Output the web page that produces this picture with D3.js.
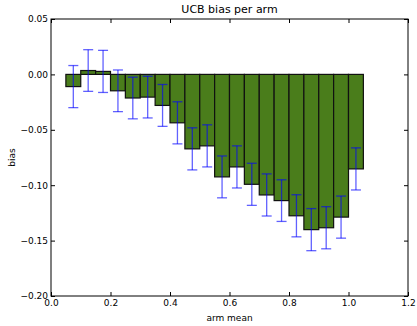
<!DOCTYPE html>
<html>
<head>
<meta charset="utf-8">
<script src="https://cdn.jsdelivr.net/npm/d3@7"></script>
<style>
  body { margin: 0; background: #fff; }
  text { font-family: "DejaVu Sans", sans-serif; }
</style>
</head>
<body>
<div id="chart"></div>
<script>
// bar left edges (arm mean bins), bias values and error half-widths
var binStarts = [0.05, 0.10, 0.15, 0.20, 0.25, 0.30, 0.35, 0.40, 0.45, 0.50,
                 0.55, 0.60, 0.65, 0.70, 0.75, 0.80, 0.85, 0.90, 0.95, 1.00];
var biasValues = [-0.011, 0.0035, 0.0027, -0.0148, -0.0213, -0.0205, -0.028, -0.0437, -0.0672, -0.0645,
                  -0.0925, -0.0835, -0.0992, -0.1088, -0.1139, -0.1276, -0.1401, -0.1384, -0.1288, -0.0853];
var errValues = [0.019, 0.0188, 0.019, 0.0188, 0.0188, 0.0188, 0.0189, 0.019, 0.019, 0.019,
                 0.0189, 0.019, 0.019, 0.019, 0.0188, 0.019, 0.019, 0.019, 0.019, 0.019];
var binWidth = 0.05;
var xTicks = [0.0, 0.2, 0.4, 0.6, 0.8, 1.0, 1.2];
var yTicks = [0.05, 0.00, -0.05, -0.10, -0.15, -0.20];

var svgWidth = 417, svgHeight = 326;
var margin = { top: 19, right: 9, bottom: 30, left: 51 };
var width = svgWidth - margin.left - margin.right;
var height = svgHeight - margin.top - margin.bottom;

var svg = d3.select("#chart").append("svg")
  .attr("width", svgWidth)
  .attr("height", svgHeight);

var g = svg.append("g")
  .attr("transform", `translate(${margin.left}, ${margin.top})`);

var x = d3.scaleLinear().domain([0, 1.2]).range([0, width]);
var y = d3.scaleLinear().domain([-0.20, 0.05]).range([height, 0]);

var data = binStarts.map(function(b, i) {
  return { x0: b, v: biasValues[i], e: errValues[i] };
});

// bars
g.append("g").selectAll("rect")
  .data(data)
  .enter()
  .append("rect")
  .attr("x", d => x(d.x0))
  .attr("width", d => x(d.x0 + binWidth) - x(d.x0))
  .attr("y", d => y(Math.max(0, d.v)))
  .attr("height", d => Math.abs(y(d.v) - y(0)))
  .attr("fill", "#4a7d1b")
  .attr("stroke", "#111")
  .attr("stroke-width", 1.2);

// error bars
var cap = 5;
var errG = g.append("g")
  .attr("stroke", "#0000ff")
  .attr("stroke-opacity", 0.62)
  .attr("stroke-width", 1.3);

errG.selectAll("line.v")
  .data(data)
  .enter()
  .append("line")
  .attr("x1", d => x(d.x0 + binWidth / 2))
  .attr("x2", d => x(d.x0 + binWidth / 2))
  .attr("y1", d => y(d.v + d.e))
  .attr("y2", d => y(d.v - d.e));

["top", "bottom"].forEach(function(side) {
  errG.selectAll("line." + side)
    .data(data)
    .enter()
    .append("line")
    .attr("x1", d => x(d.x0 + binWidth / 2) - cap)
    .attr("x2", d => x(d.x0 + binWidth / 2) + cap)
    .attr("y1", d => y(side === "top" ? d.v + d.e : d.v - d.e))
    .attr("y2", d => y(side === "top" ? d.v + d.e : d.v - d.e));
});

// axes, ticks inside on all four sides
var fmtY = d => d3.format(".2f")(d).replace("-", "\u2212");
var tickLen = 4;

var bottomAxis = d3.axisBottom(x).tickValues(xTicks).tickFormat(d3.format(".1f"))
  .tickSizeInner(-tickLen).tickSizeOuter(0).tickPadding(4);
var leftAxis = d3.axisLeft(y).tickValues(yTicks).tickFormat(fmtY)
  .tickSizeInner(-tickLen).tickSizeOuter(0).tickPadding(3);
var topAxis = d3.axisTop(x).tickValues(xTicks).tickFormat("")
  .tickSizeInner(-tickLen).tickSizeOuter(0);
var rightAxis = d3.axisRight(y).tickValues(yTicks).tickFormat("")
  .tickSizeInner(-tickLen).tickSizeOuter(0);

var axes = [
  g.append("g").attr("transform", `translate(0, ${height})`).call(bottomAxis),
  g.append("g").call(leftAxis),
  g.append("g").call(topAxis),
  g.append("g").attr("transform", `translate(${width}, 0)`).call(rightAxis)
];
axes.forEach(function(a) {
  a.select(".domain").remove();
  a.selectAll("text").attr("font-size", "9px").attr("fill", "#000")
    .attr("font-family", "DejaVu Sans, sans-serif");
  a.selectAll(".tick line").attr("stroke", "#000");
});

g.append("rect")
  .attr("width", width)
  .attr("height", height)
  .attr("fill", "none")
  .attr("stroke", "#000")
  .attr("stroke-width", 1);

// labels
svg.append("text")
  .attr("x", margin.left + width / 2)
  .attr("y", 13)
  .attr("text-anchor", "middle")
  .attr("font-size", "11px")
  .text("UCB bias per arm");

svg.append("text")
  .attr("x", margin.left + width / 2)
  .attr("y", 321)
  .attr("text-anchor", "middle")
  .attr("font-size", "9px")
  .text("arm mean");

svg.append("text")
  .attr("transform", `translate(15, ${margin.top + height / 2}) rotate(-90)`)
  .attr("text-anchor", "middle")
  .attr("font-size", "9px")
  .text("bias");
</script>
</body>
</html>
